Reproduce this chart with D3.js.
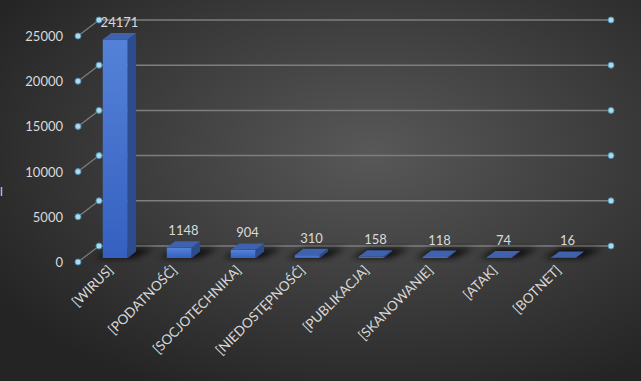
<!DOCTYPE html>
<html>
<head>
<meta charset="utf-8">
<script src="https://cdn.jsdelivr.net/npm/d3@7"></script>
<style>
  body { margin: 0; background: #2a2a2a; }
  svg text { font-family: Lato, "Open Sans", sans-serif; fill: #d9d9d9; }
</style>
</head>
<body>
<div id="chart"></div>
<script>
var categories = ["[WIRUS]", "[PODATNOŚĆ]", "[SOCJOTECHNIKA]", "[NIEDOSTĘPNOŚĆ]", "[PUBLIKACJA]", "[SKANOWANIE]", "[ATAK]", "[BOTNET]"];
var values = [24171, 1148, 904, 310, 158, 118, 74, 16];
var yTicks = [0, 5000, 10000, 15000, 20000, 25000];

var width = 641, height = 381;
var depthX = 21, depthY = 16; // floor depth offset front -> back wall

var svg = d3.select("#chart").append("svg")
    .attr("width", width)
    .attr("height", height);

var defs = svg.append("defs");

// background
var bg = defs.append("radialGradient").attr("id", "bg")
    .attr("cx", "58%").attr("cy", "40%").attr("r", "70%");
bg.append("stop").attr("offset", "0%").attr("stop-color", "#585858");
bg.append("stop").attr("offset", "100%").attr("stop-color", "#242424");
svg.append("rect").attr("width", width).attr("height", height).attr("fill", "url(#bg)");

var front = defs.append("linearGradient").attr("id", "front")
    .attr("x1", 0).attr("y1", 0).attr("x2", 0).attr("y2", 1);
front.append("stop").attr("offset", "0%").attr("stop-color", "#5582d8");
front.append("stop").attr("offset", "100%").attr("stop-color", "#3560c0");

defs.append("filter").attr("id", "blur")
    .attr("x", "-50%").attr("y", "-50%").attr("width", "200%").attr("height", "200%")
  .append("feGaussianBlur").attr("stdDeviation", 3);

var x = d3.scaleBand()
    .domain(categories)
    .range([78, 590])
    .paddingInner(0.61)
    .paddingOuter(0.305);

var y = d3.scaleLinear()
    .domain([0, 25000])
    .range([262, 36]);

// gridlines with diagonal links to the front axis
var grid = svg.append("g");
yTicks.forEach(function (t) {
    grid.append("line")
        .attr("x1", 78 + depthX).attr("x2", 590 + depthX)
        .attr("y1", y(t) - depthY).attr("y2", y(t) - depthY)
        .attr("stroke", "#7e7e7e").attr("stroke-width", 1.5);
    grid.append("line")
        .attr("x1", 78).attr("x2", 78 + depthX)
        .attr("y1", y(t)).attr("y2", y(t) - depthY)
        .attr("stroke", "#7e7e7e").attr("stroke-width", 1.2);
    [[78, y(t)], [78 + depthX, y(t) - depthY], [590 + depthX, y(t) - depthY]].forEach(function (p) {
        grid.append("circle")
            .attr("cx", p[0]).attr("cy", p[1]).attr("r", 3)
            .attr("fill", "#a8dcec").attr("stroke", "#4f8fb8").attr("stroke-width", 1);
    });
    grid.append("text")
        .attr("x", 63).attr("y", y(t) + 5)
        .attr("text-anchor", "end")
        .attr("font-size", 13)
        .text(t);
});

// remnant of the axis title at the left edge
svg.append("text")
    .attr("x", 0).attr("y", 196)
    .attr("font-size", 12)
    .text("l");

var z0 = 0.25, z1 = 0.65;
function pt(px, v, z) {
    return [px + z * depthX, y(v) - z * depthY];
}
function poly(pts) { return pts.map(function (p) { return p.join(","); }).join(" "); }

var bars = svg.append("g");
categories.forEach(function (c, i) {
    var v = values[i];
    var xl = x(c), xr = x(c) + x.bandwidth();

    // shadow on the floor
    bars.append("polygon")
        .attr("points", poly([pt(xl - 8, 0, z0), pt(xr + 6, 0, z0), pt(xr + 14, 0, z1 + 0.2), pt(xl - 2, 0, z1 + 0.2)]))
        .attr("fill", "#000").attr("opacity", 0.8)
        .attr("filter", "url(#blur)");

    // front face
    var f = [pt(xl, 0, z0), pt(xr, 0, z0), pt(xr, v, z0), pt(xl, v, z0)];
    bars.append("polygon").attr("points", poly(f)).attr("fill", "url(#front)");
    // side face
    bars.append("polygon")
        .attr("points", poly([pt(xr, 0, z0), pt(xr, 0, z1), pt(xr, v, z1), pt(xr, v, z0)]))
        .attr("fill", "#2d4c8e");
    // top face
    bars.append("polygon")
        .attr("points", poly([pt(xl, v, z0), pt(xr, v, z0), pt(xr, v, z1), pt(xl, v, z1)]))
        .attr("fill", "#3e62ad");

    var top = pt(x(c) + x.bandwidth() / 2, v, (z0 + z1) / 2);
    bars.append("text")
        .attr("x", top[0]).attr("y", y(v) - z1 * depthY - 6)
        .attr("text-anchor", "middle")
        .attr("font-size", 13)
        .text(v);

    // category label
    var lx = x(c) + x.bandwidth() / 2 + 4;
    bars.append("text")
        .attr("transform", "translate(" + lx + "," + 271 + ") rotate(-45)")
        .attr("text-anchor", "end")
        .attr("font-size", 13.5)
        .text(c);
});
</script>
</body>
</html>
